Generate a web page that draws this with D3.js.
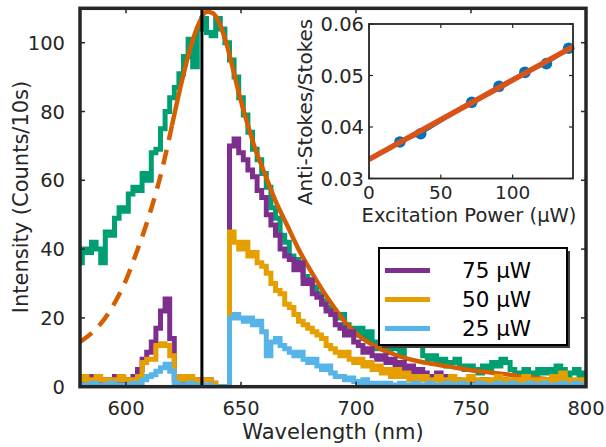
<!DOCTYPE html>
<html><head><meta charset="utf-8">
<script src="https://cdn.jsdelivr.net/npm/d3@7/dist/d3.min.js"></script>
<style>body{margin:0;background:#fff}svg{display:block}text{font-family:"DejaVu Sans",sans-serif;fill:#262626}</style>
</head><body><svg id="c" width="606" height="447"></svg>
<script>
// ---------- data ----------
const wavelength = [
580,582,584,586,588,590,592,594,596,598,
600,602,604,606,608,610,612,614,616,618,
620,622,624,626,628,630,632,634,636,638,
640,642,644,646,648,650,652,654,656,658,
660,662,664,666,668,670,672,674,676,678,
680,682,684,686,688,690,692,694,696,698,
700,702,704,706,708,710,712,714,716,718,
720,722,724,726,728,730,732,734,736,738,
740,742,744,746,748,750,752,754,756,758,
760,762,764,766,768,770,772,774,776,778,
780,782,784,786,788,790,792,794,796,798,
800];
const fullSpectrum = [
36,40,39,42,40,36,45,44,49,52,
51,56,58,57,62,60,68,69,75,80,
84,87,91,96,101,93,104,107,103,102,
107,104,100,95,90,84,79,74,69,66,
62,58,52,49,44,42,38,37,35,32,
31,29,27,25,23,22,20,21,18,17,
15,17,14,16,13,11,13,10,12,11,
9,13,12,16,15,9,8,9,7,8,
6,7,8,6,5,6,5,4,6,5,
7,6,8,7,5,4,3,5,4,3,
5,4,5,3,6,5,3,4,5,3,
4];
const p75 = [
2,1,3,2,1,2,1,2,3,1,
2,2,3,5,8,10,13,17,22,25.5,
14,2,1,2,1,2,1,2,2,1,
0,0,0,70,72,68,66,63,61,57,
55,50,47,44,40,38,37,34,36,30,
31,27,26,24,22,21,18,17,15,16,
13,12,10,11,9,8,9,7,8,6,
7,5,6,3,5,4,3,2,4,2,
3,1,2,1,0.5,1,0,1,2,1,
0,1,2,1,1,0,1,0,1,2,
1,0,1,0,1,0,1,0,1,0,
1];
const p50 = [
2,3,1,2,3,2,1,2,2,3,
2,1,2,3,7,8,8,12,12.5,12,
9,2,3,2,3,2,1,2,2,1,
0,0,0,45,42,40,42,38,39,36,
35,33,30,28,27,24,23,21,19,18,
17,16,15,14,12,11,10,9,10,8,
7,8,6,7,5,6,4,5,3,5,
3,4,2,3,2,3,1,2,3,1,
2,3,1,2,1,3,2,1,2,1,
2,3,1,2,1,2,1,3,1,2,
1,2,1,3,1,4,2,1,2,1,
2];
const p25 = [
0,0.5,0,1,0,0.5,0,1,0,0.5,
0,0.5,1,1,2,3,3.5,4.5,5.5,6.5,
4.5,1,0,0.5,1,0,0.5,0,0.5,0,
0,0,0,20,21,20,19,20,18,19,
16,9,13,14,12,11,10,9,10,8,
7,8,6,5,6,4,3,3,2,2.5,
1.5,1,2,1,0.5,1,0,1,0.5,0,
1,0,0.5,1,0,0.5,1,0,0.5,0,
1,0.5,0,1,0,0.5,0,1,0,0.5,
0,1,0.5,0,1,0,0.5,0,1,0,
0.5,1,0,0.5,0,1,0,0.5,1,0,
0.5];
const fitWavelength = [580,584,588,592,596,600,604,608,612,616,620,624,628,632,635,638,641,644,647,650,653,656,660,665,670,675,680,685,690,695,700,705,710,715,720,730,740,750,760,770,780,790,800];
const fitIntensity  = [13,15,17.5,21,25.5,31,38,45.5,54,64,76,88,98.5,106,109,108.5,105,99,91,83,76,69.5,62.5,54,47,40,34,28.5,23.5,19,15.5,13,11.2,9.8,8.6,7,5.9,4.8,4,3.2,2.4,1.9,1.5];
const fitSolidFrom = 620;
const cutoffWavelength = 633;
const xTicks = [600,650,700,750,800];
const yTicks = [0,20,40,60,80,100];

const powerUW = [21.5,36,71.5,90.5,108.5,123.5,139];
const asRatio = [0.0371,0.0387,0.0448,0.0479,0.0506,0.0523,0.0553];
const fitPower = [0,142];
const fitRatio = [0.0337,0.0556];
const insetXTicks = [0,50,100];
const insetYTicks = [0.03,0.04,0.05,0.06];

const legendLabels = ["75 µW","50 µW","25 µW"];
const seriesColors = ["#7E2F8E","#E69F00","#56B4E9"];

// ---------- drawing ----------
const svg = d3.select("#c");
const M = {l:80, r:586, t:8.3, b:386.7};
const x = d3.scaleLinear().domain([580,800]).range([M.l,M.r]);
const y = d3.scaleLinear().domain([0,110]).range([M.b,M.t]);
const ink = "#262626";
const TICKFS = 19.5, TITLEFS = 21;

svg.append("defs").append("clipPath").attr("id","plotclip")
  .append("rect").attr("x",M.l).attr("y",M.t).attr("width",M.r-M.l).attr("height",M.b-M.t);
const g = svg.append("g").attr("clip-path","url(#plotclip)");

const stepLine = d3.line().x(d=>x(d[0])).y(d=>y(d[1])).curve(d3.curveStep);
function drawSeries(vals,color){
  g.append("path").datum(wavelength.map((w,i)=>[w,vals[i]]))
   .attr("d",stepLine).attr("fill","none").attr("stroke",color)
   .attr("stroke-width",5).attr("stroke-linejoin","miter");
}
drawSeries(fullSpectrum,"#009E73");

const fitPts = fitWavelength.map((w,i)=>[w,fitIntensity[i]]);
const smooth = d3.line().x(d=>x(d[0])).y(d=>y(d[1])).curve(d3.curveMonotoneX);
g.append("path").datum(fitPts.filter(d=>d[0]<=fitSolidFrom)).attr("d",smooth)
  .attr("fill","none").attr("stroke","#D55E00").attr("stroke-width",4.5).attr("stroke-dasharray","15,10");
g.append("path").datum(fitPts.filter(d=>d[0]>=fitSolidFrom)).attr("d",smooth)
  .attr("fill","none").attr("stroke","#D55E00").attr("stroke-width",4.5);

drawSeries(p75,seriesColors[0]);
drawSeries(p50,seriesColors[1]);
drawSeries(p25,seriesColors[2]);

g.append("line").attr("x1",x(cutoffWavelength)).attr("x2",x(cutoffWavelength))
  .attr("y1",M.t).attr("y2",M.b).attr("stroke","#000").attr("stroke-width",3);

// frame + ticks
const axg = svg.append("g");
xTicks.forEach(t=>{
  axg.append("line").attr("x1",x(t)).attr("x2",x(t)).attr("y1",M.b).attr("y2",M.b-5).attr("stroke",ink).attr("stroke-width",1.5);
  axg.append("line").attr("x1",x(t)).attr("x2",x(t)).attr("y1",M.t).attr("y2",M.t+5).attr("stroke",ink).attr("stroke-width",1.5);
  axg.append("text").attr("x",x(t)).attr("y",415).attr("text-anchor","middle").attr("font-size",TICKFS).text(t);
});
yTicks.forEach(t=>{
  axg.append("line").attr("x1",M.l).attr("x2",M.l+5).attr("y1",y(t)).attr("y2",y(t)).attr("stroke",ink).attr("stroke-width",1.5);
  axg.append("line").attr("x1",M.r).attr("x2",M.r-5).attr("y1",y(t)).attr("y2",y(t)).attr("stroke",ink).attr("stroke-width",1.5);
  axg.append("text").attr("x",65).attr("y",y(t)).attr("dy","0.36em").attr("text-anchor","end").attr("font-size",TICKFS).text(t);
});
axg.append("rect").attr("x",M.l).attr("y",M.t).attr("width",M.r-M.l).attr("height",M.b-M.t)
  .attr("fill","none").attr("stroke",ink).attr("stroke-width",3.5);
axg.append("text").attr("x",333).attr("y",439).attr("text-anchor","middle").attr("font-size",TITLEFS).text("Wavelength (nm)");
axg.append("text").attr("transform","translate(28,197) rotate(-90)").attr("text-anchor","middle").attr("font-size",TITLEFS).text("Intensity (Counts/10s)");

// ---------- inset ----------
const I = {l:369, r:573, t:24, b:178.5};
const ix = d3.scaleLinear().domain([0,142]).range([I.l,I.r]);
const iy = d3.scaleLinear().domain([0.03,0.06]).range([I.b,I.t]);
const ins = svg.append("g");
ins.append("rect").attr("x",I.l).attr("y",I.t).attr("width",I.r-I.l).attr("height",I.b-I.t).attr("fill","#fff");
const ptLine = d3.line().x(d=>ix(d[0])).y(d=>iy(d[1]));
const pts = powerUW.map((p,i)=>[p,asRatio[i]]);
ins.append("path").datum(pts).attr("d",ptLine).attr("fill","none").attr("stroke","#0072BD").attr("stroke-width",3);
ins.selectAll("circle").data(pts).enter().append("circle")
  .attr("cx",d=>ix(d[0])).attr("cy",d=>iy(d[1])).attr("r",5.8).attr("fill","#0072BD");
ins.append("path").datum(fitPower.map((p,i)=>[p,fitRatio[i]])).attr("d",ptLine)
  .attr("fill","none").attr("stroke","#D95319").attr("stroke-width",5.5);
insetXTicks.forEach(t=>{
  ins.append("line").attr("x1",ix(t)).attr("x2",ix(t)).attr("y1",I.b).attr("y2",I.b-4).attr("stroke",ink).attr("stroke-width",1.2);
  ins.append("line").attr("x1",ix(t)).attr("x2",ix(t)).attr("y1",I.t).attr("y2",I.t+4).attr("stroke",ink).attr("stroke-width",1.2);
  ins.append("text").attr("x",ix(t)).attr("y",199).attr("text-anchor","middle").attr("font-size",18.5).text(t);
});
insetYTicks.forEach(t=>{
  ins.append("line").attr("x1",I.l).attr("x2",I.l+4).attr("y1",iy(t)).attr("y2",iy(t)).attr("stroke",ink).attr("stroke-width",1.2);
  ins.append("line").attr("x1",I.r).attr("x2",I.r-4).attr("y1",iy(t)).attr("y2",iy(t)).attr("stroke",ink).attr("stroke-width",1.2);
  ins.append("text").attr("x",364).attr("y",iy(t)).attr("dy","0.36em").attr("text-anchor","end").attr("font-size",TICKFS).text(t.toFixed(2));
});
ins.append("rect").attr("x",I.l).attr("y",I.t).attr("width",I.r-I.l).attr("height",I.b-I.t)
  .attr("fill","none").attr("stroke",ink).attr("stroke-width",1.8);
ins.append("text").attr("x",469).attr("y",222).attr("text-anchor","middle").attr("font-size",19.5).text("Excitation Power (µW)");
ins.append("text").attr("transform","translate(312,112) rotate(-90)").attr("text-anchor","middle").attr("font-size",20).text("Anti-Stokes/Stokes");

// ---------- legend ----------
const L = {x:379, y:248, w:188, h:97};
const lg = svg.append("g");
lg.append("rect").attr("x",L.x+3).attr("y",L.y+3).attr("width",L.w).attr("height",L.h).attr("fill","#404040");
lg.append("rect").attr("x",L.x).attr("y",L.y).attr("width",L.w).attr("height",L.h).attr("fill","#fff").attr("stroke","#000").attr("stroke-width",2);
legendLabels.forEach((lab,i)=>{
  const yy = L.y + 22.5 + i*29;
  lg.append("line").attr("x1",L.x+6).attr("x2",L.x+51).attr("y1",yy).attr("y2",yy).attr("stroke",seriesColors[i]).attr("stroke-width",5);
  lg.append("text").attr("x",L.x+83).attr("y",yy).attr("dy","0.36em").attr("font-size",21.5).style("fill","#000").text(lab);
});
</script></body></html>
